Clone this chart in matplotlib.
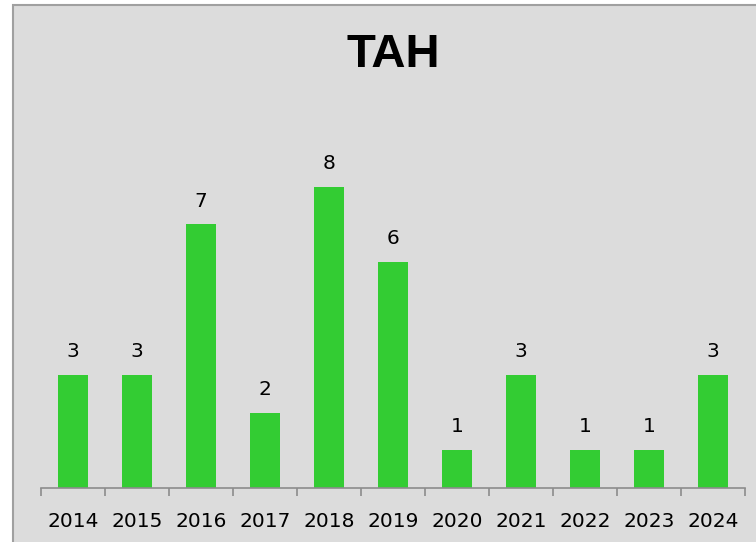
import matplotlib
matplotlib.use("Agg")
import matplotlib.pyplot as plt
from matplotlib.patches import Rectangle
import numpy as np

years = ["2014", "2015", "2016", "2017", "2018", "2019", "2020", "2021", "2022", "2023", "2024"]
values = [3, 3, 7, 2, 8, 6, 1, 3, 1, 1, 3]
title = "TAH"

W, H = 756, 542
fig = plt.figure(figsize=(W / 100, H / 100), dpi=100)
fig.patch.set_facecolor("white")

bg = "#dcdcdc"
fig.patches.append(Rectangle((12.5 / W, -0.1), 1.2, 1.1 - 4.5 / H, transform=fig.transFigure,
                             facecolor=bg, edgecolor="#a0a0a0", linewidth=1.5, zorder=-10))

left, right, bottom = 41 / W, 745 / W, 1 - 488 / H
top = 1 - 111.5 / H
ax = fig.add_axes([left, bottom, right - left, top - bottom])
ax.set_facecolor("none")
ax.set_zorder(5)

x = np.arange(len(years))
bars = ax.bar(x, values, width=0.48, color="#33cc33", zorder=2)
ax.set_xlim(-0.5, len(years) - 0.5)
ax.set_ylim(0, 10)

for xi, v in zip(x, values):
    ax.annotate(str(v), (xi, v), xytext=(0, 10), textcoords="offset points",
                ha="center", va="bottom", fontsize=14.5, family="DejaVu Sans", color="black")

for s in ["top", "right", "left"]:
    ax.spines[s].set_visible(False)
ax.spines["bottom"].set_color("#8c8c8c")
ax.spines["bottom"].set_linewidth(1.2)
ax.set_yticks([])
ax.set_xticks(np.arange(-0.5, len(years), 1.0))
ax.set_xticklabels([])
ax.set_xticks(x, minor=True)
ax.set_xticklabels(years, minor=True, fontsize=14.5, family="DejaVu Sans")
ax.tick_params(axis="x", which="major", length=6, width=1.2, color="#8c8c8c", direction="out")
ax.tick_params(axis="x", which="minor", length=0, pad=17)

fig.text((left + right) / 2, 1 - 55 / H, title, ha="center", va="center",
         fontsize=34, fontweight="bold", family="Liberation Sans")

fig.savefig("out.png", dpi=100)
